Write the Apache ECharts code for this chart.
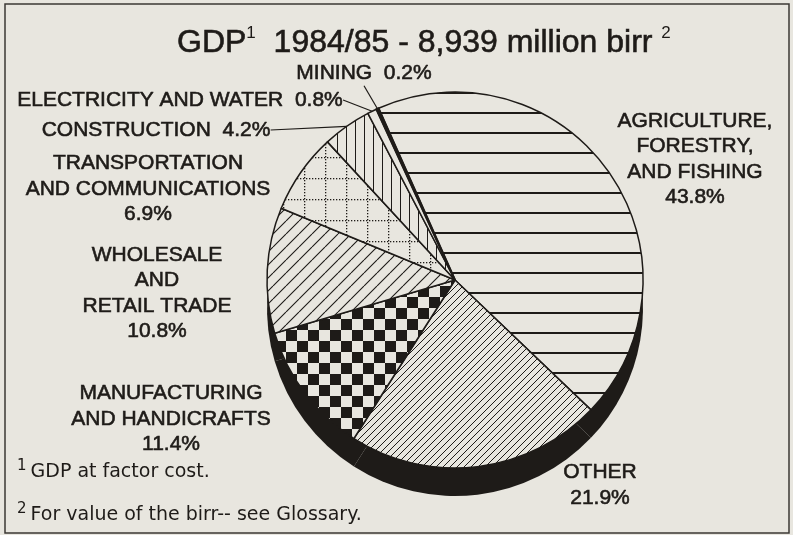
<!DOCTYPE html>
<html>
<head>
<meta charset="utf-8">
<script src="https://cdn.jsdelivr.net/npm/echarts@6/dist/echarts.min.js"></script>
<style>
html, body { margin: 0; padding: 0; background: #e8e6df; }
#main { width: 793px; height: 535px; }
</style>
</head>
<body>
<div id="main"></div>
<script>
// GDP 1984/85 by sector, share in %
var sectors = ['AGRICULTURE,\nFORESTRY,\nAND FISHING', 'OTHER', 'MANUFACTURING\nAND HANDICRAFTS',
    'WHOLESALE\nAND\nRETAIL TRADE', 'TRANSPORTATION\nAND COMMUNICATIONS', 'CONSTRUCTION',
    'ELECTRICITY AND WATER', 'MINING'];
var shares = [43.8, 21.9, 11.4, 10.8, 6.9, 4.2, 0.8, 0.2];
// these ones have the value on the same line and a leader line
var oneLine = ['CONSTRUCTION', 'ELECTRICITY AND WATER', 'MINING'];

var bg = '#e8e6df', ink = '#1e1b18';
var font = '"Liberation Sans", Arial, sans-serif';
var noteFont = '"DejaVu Sans", Verdana, sans-serif';

// label placement (x,y is the centre of the text block)
var labelPos = [
    {x: 695, y: 159}, {x: 600, y: 485}, {x: 171, y: 419}, {x: 157, y: 293},
    {x: 148, y: 189}, {x: 156, y: 130}, {x: 180, y: 100}, {x: 364, y: 73}
];

function tile(w, h, draw) {
    var c = document.createElement('canvas');
    c.width = w; c.height = h;
    var ctx = c.getContext('2d');
    ctx.fillStyle = bg;
    ctx.fillRect(0, 0, w, h);
    ctx.strokeStyle = ink;
    ctx.fillStyle = ink;
    draw(ctx, w, h);
    return {image: c, repeat: 'repeat'};
}
function slashes(ctx, s, lw) {
    ctx.lineWidth = lw;
    ctx.beginPath();
    for (var k = -1; k <= 1; k++) {
        ctx.moveTo(k * s, s);
        ctx.lineTo(k * s + s, 0);
    }
    ctx.stroke();
}

var fills = [
    tile(20, 20, function (ctx, w) { ctx.lineWidth = 2; ctx.beginPath(); ctx.moveTo(0, 13); ctx.lineTo(w, 13); ctx.stroke(); }),
    tile(7, 7, function (ctx, w) { slashes(ctx, w, 1); }),
    tile(22, 22, function (ctx) { ctx.fillRect(0, 0, 11, 11); ctx.fillRect(11, 11, 11, 11); }),
    tile(13, 13, function (ctx, w) { slashes(ctx, w, 1.1); }),
    tile(21, 21, function (ctx) {
        for (var i = 0; i < 21; i += 3) { ctx.fillRect(i, 10, 1.3, 1.3); ctx.fillRect(10, i, 1.3, 1.3); }
    }),
    tile(9, 9, function (ctx) { ctx.lineWidth = 1; ctx.beginPath(); ctx.moveTo(4.5, 0); ctx.lineTo(4.5, 9); ctx.stroke(); }),
    bg,
    ink
];

var chart = echarts.init(document.getElementById('main'), null, {renderer: 'canvas'});

// a thin outline in the text colour makes the type a bit heavier, like the print
var heavy = {textBorderColor: ink, textBorderWidth: 0.6};

var noteRich = {
    n: {fontFamily: noteFont, fontSize: 15, fontWeight: 'normal', color: ink, lineHeight: 14, verticalAlign: 'top'},
    f: {fontFamily: noteFont, fontSize: 19, fontWeight: 'normal', color: ink, lineHeight: 26, padding: [0, 0, 0, 4]}
};

var option = {
    backgroundColor: bg,
    animation: false,
    title: [{
        left: 172,
        top: 20,
        text: '{a|GDP}{b|1}{a|  1984/85 - 8,939 million birr }{b|2}',
        textStyle: {
            rich: {
                a: Object.assign({fontFamily: font, fontSize: 32, fontWeight: 'normal', color: ink, lineHeight: 36}, heavy),
                b: {fontFamily: font, fontSize: 17, fontWeight: 'normal', color: ink, lineHeight: 20, verticalAlign: 'top'}
            }
        }
    }, {
        left: 12,
        top: 454,
        text: '{n|1}{f|GDP at factor cost.}',
        textStyle: {rich: noteRich}
    }, {
        left: 12,
        top: 497,
        text: '{n|2}{f|For value of the birr-- see Glossary.}',
        textStyle: {rich: noteRich}
    }],
    graphic: [{
        type: 'rect',
        silent: true,
        shape: {x: 5, y: 4, width: 784, height: 529},
        style: {fill: null, stroke: '#3b3835', lineWidth: 1.5}
    }],
    series: [{
        // dark rim under the pie
        type: 'pie',
        silent: true,
        center: [455, 308],
        radius: 188,
        startAngle: 114,
        label: {show: false},
        labelLine: {show: false},
        itemStyle: {color: ink, borderWidth: 0},
        data: shares
    }, {
        type: 'pie',
        silent: true,
        center: [455, 280],
        radius: 188,
        startAngle: 114,
        clockwise: true,
        avoidLabelOverlap: false,
        itemStyle: {borderColor: ink, borderWidth: 1.5},
        label: Object.assign({
            color: ink,
            fontFamily: font,
            fontSize: 21,
            lineHeight: 25.5,
            formatter: function (p) {
                var sep = oneLine.indexOf(p.name) >= 0 ? '  ' : '\n';
                return p.name + sep + p.value.toFixed(1) + '%';
            }
        }, heavy),
        labelLine: {show: true, length: 8, length2: 0, lineStyle: {color: ink, width: 1.2}},
        labelLayout: function (p) {
            var pos = labelPos[p.dataIndex];
            return {x: pos.x, y: pos.y, align: 'center', verticalAlign: 'middle'};
        },
        data: sectors.map(function (name, i) {
            return {
                name: name,
                value: shares[i],
                itemStyle: {color: fills[i], borderWidth: name === 'MINING' ? 2 : 1.5},
                labelLine: {show: oneLine.indexOf(name) >= 0}
            };
        })
    }]
};

chart.setOption(option);
</script>
</body>
</html>
